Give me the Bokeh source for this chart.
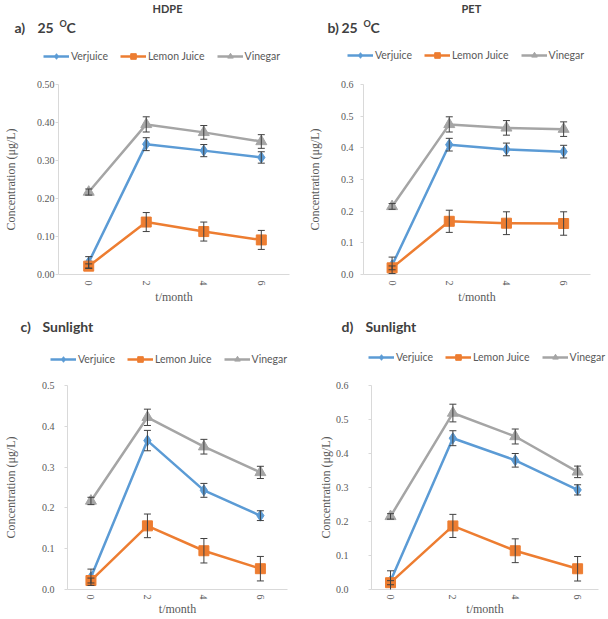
import math
from bokeh.plotting import figure
from bokeh.models import (ColumnDataSource, Whisker, TeeHead, Legend, LegendItem,
                          Label, Range1d, FixedTicker, NumeralTickFormatter)
from bokeh.layouts import column, row
from bokeh.embed import file_html
from bokeh.resources import INLINE

# ---------------- data ----------------
months = [0, 2, 4, 6]
series_names = ["Verjuice", "Lemon Juice", "Vinegar"]

# a) HDPE, 25 C
verj_a = [0.032, 0.343, 0.326, 0.308]
verj_a_err = [0.015, 0.017, 0.016, 0.015]
lemon_a = [0.022, 0.138, 0.113, 0.091]
lemon_a_err = [0.006, 0.025, 0.025, 0.025]
vin_a = [0.217, 0.395, 0.374, 0.350]
vin_a_err = [0.008, 0.020, 0.018, 0.018]

# b) PET, 25 C
verj_b = [0.029, 0.410, 0.395, 0.388]
verj_b_err = [0.026, 0.020, 0.020, 0.020]
lemon_b = [0.021, 0.168, 0.162, 0.161]
lemon_b_err = [0.006, 0.035, 0.036, 0.037]
vin_b = [0.215, 0.474, 0.463, 0.459]
vin_b_err = [0.009, 0.024, 0.023, 0.023]

# c) HDPE, Sunlight
verj_c = [0.030, 0.365, 0.243, 0.181]
verj_c_err = [0.020, 0.025, 0.017, 0.012]
lemon_c = [0.022, 0.156, 0.095, 0.051]
lemon_c_err = [0.006, 0.029, 0.030, 0.030]
vin_c = [0.217, 0.422, 0.350, 0.287]
vin_c_err = [0.009, 0.020, 0.018, 0.015]

# d) PET, Sunlight
verj_d = [0.025, 0.445, 0.380, 0.293]
verj_d_err = [0.030, 0.022, 0.020, 0.015]
lemon_d = [0.020, 0.187, 0.114, 0.061]
lemon_d_err = [0.006, 0.034, 0.035, 0.036]
vin_d = [0.215, 0.519, 0.450, 0.346]
vin_d_err = [0.008, 0.026, 0.022, 0.017]

yticks_a = [0.0, 0.1, 0.2, 0.3, 0.4, 0.5]
yticks_b = [0.0, 0.1, 0.2, 0.3, 0.4, 0.5, 0.6]
yticks_c = [0.0, 0.1, 0.2, 0.3, 0.4, 0.5]
yticks_d = [0.0, 0.1, 0.2, 0.3, 0.4, 0.5, 0.6]

materials = ["HDPE", "PET"]

# ---------------- styles ----------------
COLORS = ["#5B9BD5", "#ED7D31", "#A5A5A5"]
MARKERS = ["diamond", "square", "triangle"]
MSIZE = [11, 10, 11]
HEAD_FONT = "Lato"
AXIS_FONT = "Liberation Serif"
TXT = "#595959"
DARK = "#404040"
WL, WR = 304, 303   # column widths


def make_header(W, Hh, data, pieces, legend_x, legend_yc):
    """Header strip: panel heading, material title and the series legend.
    The series renderers here lie outside this strip's ranges; they only
    feed the legend swatches."""
    h = figure(width=W, height=Hh, output_backend="svg", toolbar_location=None,
               x_range=Range1d(100, 101), y_range=Range1d(100, 101),
               x_axis_type=None, y_axis_type=None,
               min_border_left=0, min_border_right=0,
               min_border_top=0, min_border_bottom=0)
    h.outline_line_color = None
    h.grid.visible = False
    items = []
    for i, (vals, errs) in enumerate(data):
        src = ColumnDataSource(dict(x=months, y=vals))
        ln = h.line("x", "y", source=src, line_color=COLORS[i], line_width=2.5)
        sc = h.scatter("x", "y", source=src, marker=MARKERS[i], size=MSIZE[i],
                       fill_color=COLORS[i], line_color=COLORS[i])
        items.append(LegendItem(label=series_names[i], renderers=[ln, sc]))
    lg_h = 14
    legend = Legend(items=items, orientation="horizontal",
                    location=(legend_x, Hh - (legend_yc + lg_h / 2.0)),
                    label_text_font=HEAD_FONT, label_text_font_size="10.5px",
                    label_text_color=TXT, glyph_width=26, glyph_height=lg_h,
                    label_height=lg_h, label_standoff=2, spacing=12,
                    padding=0, margin=0, border_line_color=None,
                    background_fill_alpha=0)
    h.add_layout(legend)
    for (tx, ty, text, size) in pieces:
        h.add_layout(Label(x=tx, y=Hh - ty, x_units="screen", y_units="screen",
                           text=text, text_font=HEAD_FONT,
                           text_font_size=size, text_font_style="bold",
                           text_color=DARK, text_align="left",
                           text_baseline="middle"))
    return h


def make_panel(W, H, L, R, T, B, xr, yr, yticks, yfmt, data,
               ystd, ylab_std, xstd, xlab_std):
    p = figure(width=W, height=H, output_backend="svg", toolbar_location=None,
               x_range=Range1d(*xr), y_range=Range1d(*yr),
               min_border_left=L, min_border_right=R,
               min_border_top=T, min_border_bottom=B)
    p.outline_line_color = None
    p.grid.grid_line_color = None

    p.xaxis.ticker = FixedTicker(ticks=months)
    p.yaxis.ticker = FixedTicker(ticks=yticks)
    p.yaxis.formatter = NumeralTickFormatter(format=yfmt)
    for ax in (p.xaxis[0], p.yaxis[0]):
        ax.axis_line_color = "#D9D9D9"
        ax.major_tick_line_color = "#D9D9D9"
        ax.minor_tick_line_color = None
        ax.major_tick_in = 0
        ax.major_label_text_font = AXIS_FONT
        ax.major_label_text_font_size = "10px"
        ax.major_label_text_color = TXT
        ax.axis_label_text_font = AXIS_FONT
        ax.axis_label_text_font_size = "12px"
        ax.axis_label_text_font_style = "normal"
        ax.axis_label_text_color = TXT
    p.yaxis.major_tick_out = 3
    p.xaxis.major_tick_out = 0
    p.yaxis.major_label_standoff = ystd
    p.yaxis.axis_label_standoff = ylab_std
    p.xaxis.major_label_standoff = xstd
    p.xaxis.axis_label_standoff = xlab_std
    p.xaxis.major_label_orientation = -math.pi / 2
    p.xaxis.axis_label = "t/month"
    p.yaxis.axis_label = "Concentration (\u03bcg/L)"

    for i, (vals, errs) in enumerate(data):
        src = ColumnDataSource(dict(
            x=months, y=vals,
            lo=[v - e for v, e in zip(vals, errs)],
            hi=[v + e for v, e in zip(vals, errs)]))
        p.line("x", "y", source=src, line_color=COLORS[i], line_width=2.5)
        p.scatter("x", "y", source=src, marker=MARKERS[i], size=MSIZE[i],
                  fill_color=COLORS[i], line_color=COLORS[i])
        p.add_layout(Whisker(base="x", lower="lo", upper="hi", source=src,
                             line_color=DARK, line_width=1, level="annotation",
                             lower_head=TeeHead(size=7, line_color=DARK, line_width=1),
                             upper_head=TeeHead(size=7, line_color=DARK, line_width=1)))
    return p


data_a = [(verj_a, verj_a_err), (lemon_a, lemon_a_err), (vin_a, vin_a_err)]
data_b = [(verj_b, verj_b_err), (lemon_b, lemon_b_err), (vin_b, vin_b_err)]
data_c = [(verj_c, verj_c_err), (lemon_c, lemon_c_err), (vin_c, vin_c_err)]
data_d = [(verj_d, verj_d_err), (lemon_d, lemon_d_err), (vin_d, vin_d_err)]

HH1, HH2 = 70, 58      # header strip heights
HP1, HP2 = 242, 248    # plot heights

ha = make_header(WL, HH1, data_a, [(152, 8, materials[0], "11px"),
                                   (14, 27, "a)", "14px"), (37, 27, "25", "14px"),
                                   (59, 23, "O", "9px"), (66, 27, "C", "14px")], 43, 56)
hb = make_header(WR, HH1, data_b, [(157, 8, materials[1], "11px"),
                                   (23, 27, "b)", "14px"), (37, 27, "25", "14px"),
                                   (59, 23, "O", "9px"), (66, 27, "C", "14px")], 43, 55)
hc = make_header(WL, HH2, data_c, [(20, 14, "c)", "14px"), (42, 14, "Sunlight", "14px")], 50, 47)
hd = make_header(WR, HH2, data_d, [(37, 14, "d)", "14px"), (61, 14, "Sunlight", "14px")], 64, 45)

pa = make_panel(WL, HP1, 44, 15, 7, 38, (-1.05, 6.98), (0, 0.5), yticks_a, "0.00", data_a,
                1, 16, 6, 1)
pb = make_panel(WR, HP1, 49, 17, 14, 38, (-1.0, 6.94), (0, 0.6), yticks_b, "0.0", data_b,
                7, 16, 6, 1)
pc = make_panel(WL, HP2, 52, 17, 15, 26, (-0.83, 6.96), (0, 0.5), yticks_c, "0.0", data_c,
                10, 21, 5, -1)
pd_ = make_panel(WR, HP2, 67, 9, 7, 26, (-0.61, 6.67), (0, 0.6), yticks_d, "0.0", data_d,
                 20, 0, 5, -1)

layout = column(row(ha, hb), row(pa, pb), row(hc, hd), row(pc, pd_))
open("out.html", "w").write(file_html(layout, INLINE))
